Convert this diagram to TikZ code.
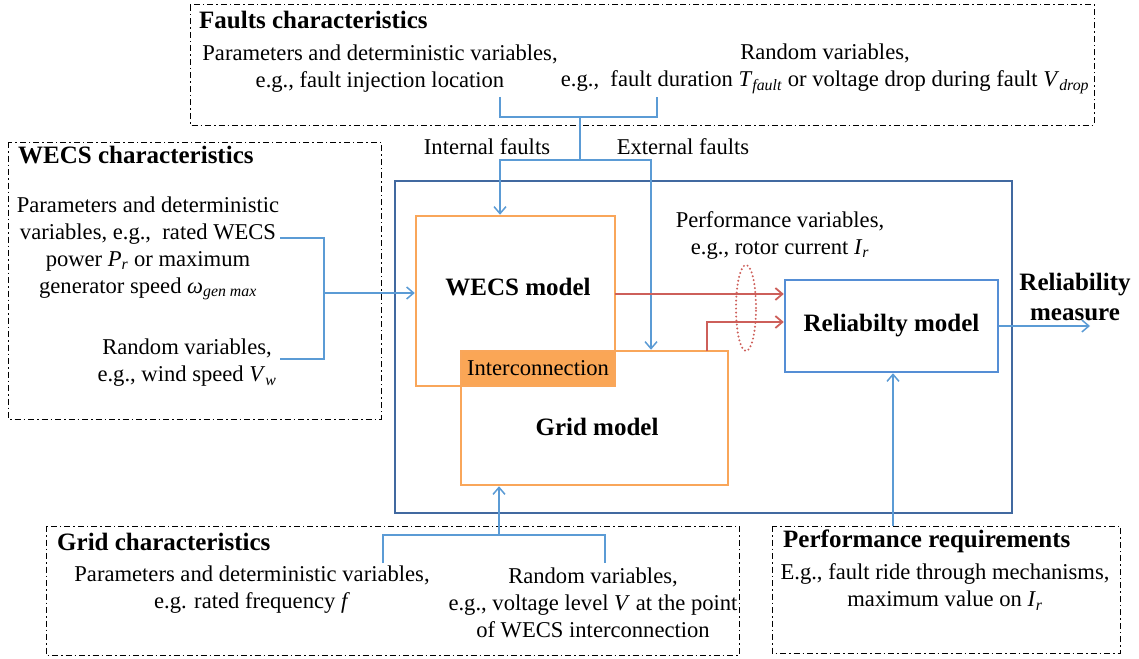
\documentclass[tikz,border=0pt]{standalone}
\usepackage{fontspec}
\setmainfont{Liberation Serif}
\usetikzlibrary{arrows.meta}

\definecolor{boxblue}{RGB}{65,105,160}
\definecolor{relblue}{RGB}{85,142,213}
\definecolor{linkblue}{RGB}{91,155,213}
\definecolor{modorange}{RGB}{249,166,90}
\definecolor{icfill}{RGB}{250,166,86}
\definecolor{perfred}{RGB}{205,95,90}

\newcommand{\vsub}[2]{\textit{#1}\textsubscript{\textit{#2}}}

\begin{document}
\begin{tikzpicture}[x=1pt,y=-1pt,
  txt/.style={font=\fontsize{22.6}{27}\selectfont, align=center, inner sep=0pt},
  ttl/.style={font=\bfseries\fontsize{25}{28}\selectfont, inner sep=0pt, anchor=west},
  bold/.style={font=\bfseries\fontsize{25}{30}\selectfont, align=center, inner sep=0pt},
  charbox/.style={draw=black, line width=1pt, dash pattern=on 6pt off 3pt on 1.5pt off 3pt},
  model/.style={draw=modorange, line width=2.5pt, inner sep=0pt},
  link/.style={draw=linkblue, line width=1.2pt},
  linkarr/.style={link, -{Straight Barb[length=7pt,width=12pt,line width=1.5pt]}},
  perfarr/.style={draw=perfred, line width=1.5pt, -{Straight Barb[length=7pt,width=12pt,line width=1.8pt]}}]
\useasboundingbox (0,0) rectangle (1139,658);

% characteristics boxes
\draw[charbox] (190,5) rectangle (1094,125);
\draw[charbox] (8,142) rectangle (381,419);
\draw[charbox] (46,526) rectangle (739,655);
\draw[charbox] (772,526) rectangle (1120,653);

\node[ttl] (ftitle) at (199,20) {Faults characteristics};
\node[txt] (fpar) at (380,69) {Parameters and deterministic variables,\\e.g., fault injection location};
\node[txt] (frand) at (825,69) {Random variables,\\e.g.,~ fault duration \vsub{T}{fault} or voltage drop during fault \vsub{V}{drop}};

\node[ttl] (wtitle) at (18,155) {WECS characteristics};
\node[txt] (wpar) at (148,248) {Parameters and deterministic\\variables, e.g.,~ rated WECS\\power \vsub{P}{r} or maximum\\generator speed \vsub{ω}{gen max}};
\node[txt] (wrand) at (187,363) {Random variables,\\e.g., wind speed \vsub{V}{w}};

\node[ttl] (gtitle) at (57,542) {Grid characteristics};
\node[txt] (gpar) at (252,590) {Parameters and deterministic variables,\\e.g. rated frequency \textit{f}};
\node[txt] (grand) at (593,603) {Random variables,\\e.g., voltage level \textit{V} at the point\\of WECS interconnection};

\node[ttl] (ptitle) at (783,541) {Performance requirements};
\node[txt] (preq) at (945,587) {E.g., fault ride through mechanisms,\\maximum value on \vsub{I}{r}};

% system
\draw[boxblue, line width=2.5pt] (395,181) rectangle (1012,513);

\node[model, minimum width=199pt, minimum height=170pt] (wecs) at (515.5,301) {};
\node[model, minimum width=267pt, minimum height=134pt] (grid) at (594.5,418) {};
\node[model, txt, fill=icfill, minimum width=154pt, minimum height=35pt] (ic) at (538,368.5) {Interconnection};
\node[bold] (wecsl) at (518,287) {WECS model};
\node[bold] (gridl) at (597,427) {Grid model};

\node[bold, draw=relblue, line width=2.5pt, minimum width=213pt, minimum height=92pt] (rel) at (891.5,326) {Reliabilty model};
\node[bold] (meas) at (1075,297) {Reliability\\measure};

\node[txt] (pvar) at (780,235) {Performance variables,\\e.g., rotor current \vsub{I}{r}};
\draw[perfred, line width=2.2pt, dash pattern=on 0pt off 4pt, line cap=round] (746,308) ellipse [x radius=10pt, y radius=43pt];

\node[txt] (intf) at (487,147) {Internal faults};
\node[txt] (extf) at (683,147) {External faults};

% connectors
\coordinate (fl) at (500,97);
\coordinate (fr) at (657,97);
\coordinate (fj) at (580,117);
\coordinate (fs) at (580,160);
\coordinate (fe) at (651,160);
\draw[link] (fl) |- (fj) -| (fr);
\draw[link] (fj) -- (fs);
\draw[linkarr] (fs) -| (wecs.north -| fl);
\draw[linkarr] (fs) -| (grid.north -| fe);

\coordinate (wp) at (280,238);
\coordinate (wr) at (280,359);
\coordinate (wj) at (324,293);
\draw[link] (wp) -| (wj) |- (wr);
\draw[linkarr] (wj) -- (wecs.west |- wj);

\coordinate (gl) at (383,563);
\coordinate (gr) at (605,563);
\coordinate (gj) at (499,535);
\draw[link] (gl) |- (gj) -| (gr);
\draw[linkarr] (gj) -- (grid.south -| gj);

\coordinate (prq) at (893,526);
\draw[linkarr] (prq) -- (rel.south -| prq);
\coordinate (out) at (1090,326);
\draw[linkarr] (rel.east) -- (out);

\coordinate (pv1) at (615,294);
\coordinate (pv2) at (707,351);
\coordinate (pv3) at (785,322);
\draw[perfarr] (pv1) -- (rel.west |- pv1);
\draw[perfarr] (pv2) |- (rel.west |- pv3);
\end{tikzpicture}
\end{document}
